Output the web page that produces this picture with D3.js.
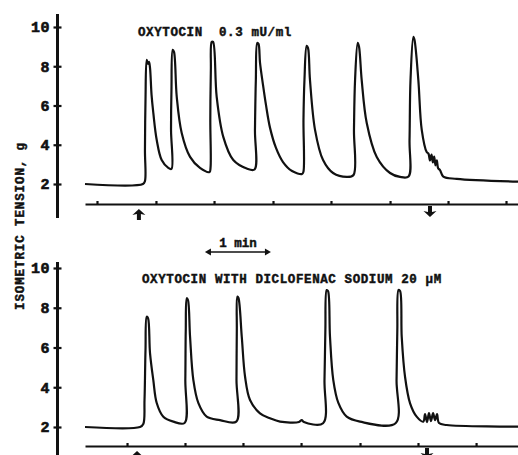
<html><head>
<title>Oxytocin tension traces</title>
<script src="https://d3js.org/d3.v7.min.js"></script>
<style>
  body { margin: 0; background: #fff; }
  text { font-family: "Liberation Mono", "DejaVu Sans Mono", monospace; font-weight: bold; fill: #111; stroke: #111; stroke-width: 0.45; }
  .trace { fill: none; stroke: #111; stroke-width: 2.2; stroke-linejoin: round; }
  .yaxis line { stroke: #111; stroke-width: 2.2; }
  .yaxis .domain { stroke: none; }
  .yaxis text { font-size: 15px; letter-spacing: 0.5px; stroke-width: 0.6; }
  .taxis .domain, .taxis line { stroke: #111; stroke-width: 2.2; }
</style>
</head>
<body>
<svg id="chart" width="518" height="455"></svg>

<script>
  // tick values for the tension scale (g)
  const tensionTicks = [2, 4, 6, 8, 10];

  // recorder event marks along the time line (seconds from start of trace)
  const marksControl = [10.9, 64.5, 117.3, 170.9, 223.6, 277.3, 330, 382.7];
  const marksDiclofenac = [38.2, 90.9, 143.6, 196.4, 250, 302.7, 355.5];

  // when oxytocin went in (up arrow) and was washed out (down arrow)
  const doseControl = [49, 313.6];
  const doseDiclofenac = [47.3, 310.9];

  // 1 min calibration bar
  const calBar = [109, 169];

  // trace 1: oxytocin 0.3 mU/ml  [time s, tension g]
  const controlTrace = [
    [0, 2.0], [52.7, 2.0], [54.5, 2.15], [54.5, 3.73], [55.0, 6.29], [56.1, 8.33], [57.3, 8.12],
    [58.2, 8.22], [59.1, 7.92], [60.5, 6.54], [62.1, 5.62], [65.2, 4.24], [69.7, 3.22], [75.7, 2.82],
    [78.6, 2.77], [78.2, 4.76], [78.6, 6.8], [79.7, 8.84], [80.9, 8.73], [83.4, 6.44], [87.9, 4.6],
    [95.5, 3.38], [104.5, 2.82], [113.2, 2.61], [114.1, 2.82], [113.9, 5.27], [114.4, 7.82],
    [115.2, 9.24], [116.4, 9.24], [119.7, 6.44], [125.7, 4.4], [134.8, 3.22], [147, 2.79],
    [154.1, 2.74], [154.5, 4.76], [155.3, 7.3], [156.6, 9.19], [157.7, 9.14], [159.1, 8.17],
    [161.8, 7.05], [164.5, 6.03], [168.2, 4.86], [173.6, 3.84], [180, 3.12], [188.2, 2.66],
    [197.3, 2.51], [198.5, 2.61], [198.6, 5.27], [199.5, 7.31], [201.5, 9.04], [202.7, 8.94],
    [204.5, 7.31], [209.1, 4.76], [216.4, 3.22], [225.5, 2.56], [238.2, 2.36], [244.1, 2.46],
    [244.5, 4.76], [245.5, 7.31], [247.9, 9.19], [249.1, 8.99], [251.5, 7.31], [256.1, 5.11],
    [265.2, 3.38], [277.3, 2.56], [286.4, 2.36], [294.1, 2.38], [295, 4.24], [295.9, 7.31],
    [298.5, 9.5], [299.5, 9.35], [303, 7.31], [306.1, 4.76], [310.6, 3.63], [312.2, 3.55],
    [313.6, 3.2], [315.0, 3.5], [316.2, 3.1], [317.4, 3.4], [318.6, 2.95], [319.8, 3.2],
    [321.0, 2.8], [322.7, 2.71], [325.7, 2.38], [337.9, 2.26], [393.6, 2.12]
  ];

  // trace 2: oxytocin with diclofenac sodium 20 uM
  const diclofenacTrace = [
    [0, 2.0], [50, 2.0], [53, 2.15], [54.1, 3.36], [55, 5.87], [56.1, 7.55], [57.3, 7.48],
    [59.1, 5.72], [62.1, 4.36], [65.2, 3.21], [71.2, 2.52], [80.3, 2.27], [90.5, 2.2],
    [91.2, 4.36], [91.6, 6.88], [92.5, 8.48], [93.6, 8.39], [95.5, 6.54], [98.5, 4.36],
    [103, 3.21], [110.6, 2.52], [122.7, 2.35], [137.5, 2.27], [137.7, 4.36], [138, 6.88],
    [138.5, 8.56], [139.5, 8.49], [142.5, 6.54], [145.5, 4.53], [150, 3.36], [159.1, 2.69],
    [168.2, 2.44], [177.3, 2.27], [194.5, 2.25], [197, 2.35], [199, 2.25], [216.4, 2.19],
    [217.7, 4.36], [218.5, 6.88], [219.7, 8.89], [220.9, 8.84], [222.7, 6.54], [225.7, 4.36],
    [230.3, 3.21], [237.9, 2.52], [250, 2.27], [282.3, 2.19], [283.2, 4.36], [283.9, 6.88],
    [285, 8.89], [286.4, 8.84], [287.9, 6.54], [290.9, 4.53], [295.5, 3.19], [301.5, 2.52],
    [307.5, 2.27], [309.1, 2.65], [310.9, 2.25], [312.7, 2.7], [314.5, 2.3], [316.4, 2.7],
    [318.2, 2.35], [320, 2.65], [321.8, 2.2], [328.8, 2.1], [393.6, 2.02]
  ];

  const svg = d3.select("svg#chart");

  // one time scale shared by both recordings (1 min = 66 px)
  const x = d3.scaleLinear().domain([0, 393.6]).range([85, 518]);

  const panels = [
    { title: "OXYTOCIN  0.3 mU/ml", titleX: 138, titleY: 35.5, trace: controlTrace,
      yRange: [184, 27], axisTop: 14, axisBottom: 218, timeY: 204,
      marks: marksControl, dose: doseControl },
    { title: "OXYTOCIN WITH DICLOFENAC SODIUM 20 \u03bcM", titleX: 142, titleY: 283, trace: diclofenacTrace,
      yRange: [427, 268], axisTop: 262, axisBottom: 460, timeY: 446,
      marks: marksDiclofenac, dose: doseDiclofenac }
  ];

  const axisX = 57.5;

  panels.forEach(p => {
    const y = d3.scaleLinear().domain([2, 10]).range(p.yRange);

    // vertical tension axis, drawn longer than the scale like the original
    svg.append("line")
       .attr("x1", axisX).attr("x2", axisX)
       .attr("y1", p.axisTop).attr("y2", p.axisBottom)
       .attr("stroke", "#111").attr("stroke-width", 3);

    let leftAxis = d3.axisLeft(y).tickValues(tensionTicks).tickSizeInner(4).tickSizeOuter(0).tickPadding(3.5);
    let ag = svg.append("g")
       .attr("class", "yaxis")
       .attr("transform", "translate(" + axisX + ",0)")
       .call(leftAxis);
    // ticks cross the axis
    ag.selectAll(".tick line").attr("x1", 4).attr("x2", -4);

    // time line with event marks
    let timeAxis = d3.axisTop(x).tickValues(p.marks).tickSizeInner(3).tickSizeOuter(0).tickFormat("");
    svg.append("g")
       .attr("class", "taxis")
       .attr("transform", "translate(0," + p.timeY + ")")
       .call(timeAxis);

    // the trace
    const line = d3.line()
      .x(d => x(d[0]))
      .y(d => y(d[1]))
      .curve(d3.curveCatmullRom.alpha(0.5));
    svg.append("path")
       .attr("class", "trace")
       .attr("d", line(p.trace));

    // add / wash arrows below the time line
    svg.append("path")
       .attr("transform", "translate(" + x(p.dose[0]) + "," + (p.timeY + 5) + ")")
       .attr("d", "M0,0 L-6.5,6 L-2,5 L-2,11 L2,11 L2,5 L6.5,6 Z")
       .attr("fill", "#111");
    svg.append("path")
       .attr("transform", "translate(" + x(p.dose[1]) + "," + (p.timeY + 13) + ")")
       .attr("d", "M0,0 L-6.5,-6 L-2,-5 L-2,-11 L2,-11 L2,-5 L6.5,-6 Z")
       .attr("fill", "#111");

    svg.append("text")
       .attr("x", p.titleX)
       .attr("y", p.titleY)
       .attr("font-size", 12.5)
       .attr("letter-spacing", 0.6)
       .attr("xml:space", "preserve")
       .style("white-space", "pre")
       .text(p.title);
  });

  // 1 min calibration bar
  const calY = 252;
  svg.append("line")
     .attr("x1", x(calBar[0]) + 2).attr("x2", x(calBar[1]) - 2)
     .attr("y1", calY).attr("y2", calY)
     .attr("stroke", "#111").attr("stroke-width", 1.6);
  svg.append("path")
     .attr("transform", "translate(" + x(calBar[0]) + "," + calY + ")")
     .attr("d", "M0,0 L6,-3.5 L6,3.5 Z").attr("fill", "#111");
  svg.append("path")
     .attr("transform", "translate(" + x(calBar[1]) + "," + calY + ")")
     .attr("d", "M0,0 L-6,-3.5 L-6,3.5 Z").attr("fill", "#111");
  svg.append("text")
     .attr("x", (x(calBar[0]) + x(calBar[1])) / 2)
     .attr("y", 247)
     .attr("text-anchor", "middle")
     .attr("font-size", 12.5)
     .text("1 min");

  // shared axis title
  svg.append("text")
     .attr("transform", "translate(24,226) rotate(-90)")
     .attr("text-anchor", "middle")
     .attr("font-size", 12.5)
     .attr("letter-spacing", 0.9)
     .text("ISOMETRIC TENSION, g");
</script>
</body>
</html>
